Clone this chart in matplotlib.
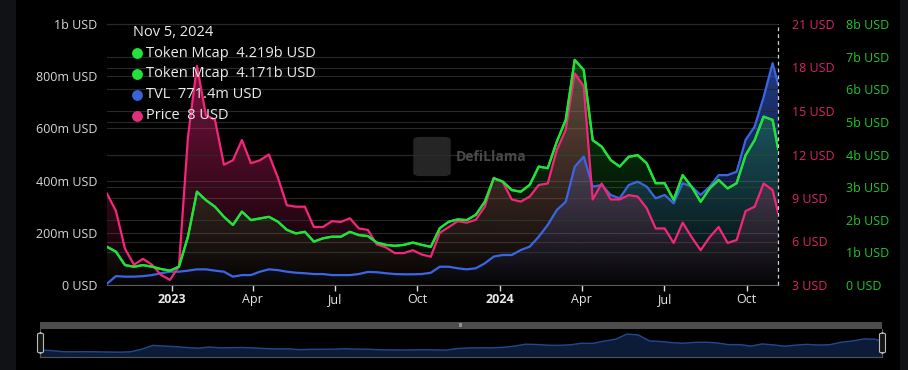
import numpy as np
import pandas as pd
import matplotlib
matplotlib.use('Agg')
import matplotlib.pyplot as plt
import matplotlib.dates as mdates
from matplotlib.colors import to_rgb
from matplotlib.lines import Line2D
from matplotlib.patches import Rectangle, FancyBboxPatch

plt.rcParams['font.family'] = ['Open Sans', 'DejaVu Sans']

# ---- data (every 10 days + last day) ----
dates = list(pd.date_range('2022-10-21', periods=75, freq='10D')) + [pd.Timestamp('2024-11-05')]

tvl = [5, 34, 32, 32, 34, 38, 45, 51, 51, 55,
       60, 60, 55, 51, 32, 38, 38, 51, 60, 57,
       51, 47, 45, 42, 42, 38, 38, 38, 42, 50,
       49, 45, 42, 41, 41, 42, 47, 70, 70, 64,
       60, 64, 83, 109, 115, 115, 134, 147, 185, 230,
       287, 319, 453, 492, 377, 383, 345, 332, 383, 396,
       377, 332, 345, 313, 390, 377, 345, 377, 421, 421,
       434, 556, 607, 720, 850, 771.4]  # m USD

price = [9.3, 8.1, 5.5, 4.4, 4.8, 4.4, 3.7, 3.35, 4.3, 13.2,
         18.1, 14.7, 14.4, 11.3, 11.6, 13.0, 11.4, 11.6, 12.0, 10.4,
         8.5, 8.4, 8.4, 7.0, 7.0, 7.4, 7.35, 7.6, 6.9, 6.8,
         5.8, 5.6, 5.2, 5.2, 5.4, 5.1, 4.95, 6.6, 7.0, 7.4,
         7.3, 7.5, 8.4, 10.4, 10.1, 8.9, 8.75, 9.1, 9.9, 10.0,
         12.3, 13.7, 17.6, 16.7, 8.9, 10.0, 8.9, 8.9, 9.2, 9.1,
         8.3, 6.9, 6.9, 5.9, 7.3, 6.3, 5.4, 6.3, 7.0, 5.9,
         6.1, 8.1, 8.4, 10.0, 9.55, 8.0]  # USD

mcap_a = [1.17, 1.02, 0.61, 0.56, 0.61, 0.56, 0.49, 0.44, 0.56, 1.48,
          2.86, 2.6, 2.4, 2.09, 1.84, 2.25, 1.99, 2.04, 2.09, 1.94,
          1.69, 1.58, 1.63, 1.33, 1.43, 1.48, 1.48, 1.63, 1.53, 1.50,
          1.30, 1.23, 1.20, 1.23, 1.30, 1.23, 1.17, 1.74, 1.94, 2.01,
          1.99, 2.15, 2.55, 3.27, 3.17, 2.91, 2.86, 3.07, 3.63, 3.58,
          4.39, 5.06, 6.9, 6.59, 4.44, 4.24, 3.83, 3.63, 3.93, 3.98,
          3.73, 3.12, 3.12, 2.61, 3.37, 3.01, 2.55, 2.96, 3.22, 2.96,
          3.12, 3.98, 4.44, 5.16, 5.06, 4.219]  # b USD
mcap_b = mcap_a[:-1] + [4.171]

left_ticks = [0, 200, 400, 600, 800, 1000]
left_labels = ['0 USD', '200m USD', '400m USD', '600m USD', '800m USD', '1b USD']
price_ticks = [3, 6, 9, 12, 15, 18, 21]
mcap_ticks = [0, 1, 2, 3, 4, 5, 6, 7, 8]
x_tick_dates = ['2023-01-01', '2023-04-01', '2023-07-01', '2023-10-01',
                '2024-01-01', '2024-04-01', '2024-07-01', '2024-10-01']
x_tick_labels = ['2023', 'Apr', 'Jul', 'Oct', '2024', 'Apr', 'Jul', 'Oct']

GREEN = '#22e23a'
BLUE = '#3a66e6'
PINK = '#f5267a'

W, H = 908, 370
fig = plt.figure(figsize=(W / 100, H / 100), dpi=100, facecolor='#111215')
fig.add_artist(Rectangle((16 / W, 0), 884 / W, 1, transform=fig.transFigure,
                         facecolor='black', edgecolor='none', zorder=-5))

x = mdates.date2num(dates)
x0 = mdates.date2num(pd.Timestamp('2022-10-21'))
x1 = x[-1]


def gradient_fill(ax, yvals, color, top_alpha, ybot):
    poly = ax.fill_between(x, yvals, ybot, facecolor='none', edgecolor='none')
    grad = np.zeros((256, 1, 4))
    grad[:, :, :3] = to_rgb(color)
    grad[:, 0, 3] = np.linspace(top_alpha, 0.02, 256)
    im = ax.imshow(grad, aspect='auto', origin='upper',
                   extent=[x[0], x[-1], ybot, max(yvals)], zorder=1)
    im.set_clip_path(poly.get_paths()[0], transform=ax.transData)


ax = fig.add_axes([107 / W, 85 / H, 671 / W, 261 / H])
ax.set_facecolor('none')
ax_p = ax.twinx()
ax_m = ax.twinx()

gradient_fill(ax, tvl, BLUE, 0.58, 0)
gradient_fill(ax_p, price, PINK, 0.5, 3)
gradient_fill(ax_m, mcap_a, GREEN, 0.28, 0)

for a, lo, hi, ticks in [(ax, 0, 1000, left_ticks), (ax_p, 3, 21, price_ticks), (ax_m, 0, 8, mcap_ticks)]:
    a.set_xlim(x0, x1)
    a.set_ylim(lo, hi)
    a.set_yticks(ticks)
    a.grid(axis='y', color='#282828', linewidth=0.8)
    a.set_axisbelow(True)
    for s in a.spines.values():
        s.set_visible(False)

# lines on top axes using each series' own scale
ax_m.plot(x, tvl, color=BLUE, lw=1.6, transform=ax.transData, zorder=3)
ax_m.plot(x, price, color=PINK, lw=1.6, transform=ax_p.transData, zorder=4)
ax_m.plot(x, mcap_b, color=GREEN, lw=1.6, zorder=5)
ax_m.plot(x, mcap_a, color=GREEN, lw=1.6, zorder=5)

ax.set_yticklabels(left_labels)
ax.tick_params(axis='y', length=0, pad=7, labelsize=9, labelcolor='#d8d8d8')
ax_p.set_yticklabels([f'{t} USD' for t in price_ticks])
ax_p.tick_params(axis='y', length=0, pad=10, labelsize=9, labelcolor='#d8266b')
ax_m.set_yticklabels(['0 USD'] + [f'{t}b USD' for t in mcap_ticks[1:]])
ax_m.tick_params(axis='y', length=0, pad=49, labelsize=9, labelcolor='#1ec82e')

ax.spines['top'].set_visible(True)
ax.spines['top'].set_color('#4a4a4a')
ax.spines['bottom'].set_visible(True)
ax.spines['bottom'].set_color('#5a5a5a')
ax.set_xticks(mdates.date2num(pd.to_datetime(x_tick_dates)))
ax.set_xticklabels(x_tick_labels)
ax.tick_params(axis='x', length=4, width=1, color='#e0e0e0', pad=2, labelsize=9, labelcolor='#e8e8e8')
for i, lab in enumerate(ax.get_xticklabels()):
    if x_tick_labels[i].isdigit():
        lab.set_fontweight('bold')
ax_p.tick_params(axis='x', length=0)
ax_m.tick_params(axis='x', length=0)

# cursor line
ax_m.axvline(x1, color='#d0d0d0', lw=0.9, ls=(0, (3, 2.5)), clip_on=False, zorder=6)

# tooltip
def fx(px):
    return px / W


def fy(py):
    return 1 - py / H


fig.text(fx(132.7), fy(32.3), 'Nov 5, 2024', color='#ececec', fontsize=10.5, va='center')
rows = [(GREEN, 'Token Mcap  4.219b USD', 53.3),
        (GREEN, 'Token Mcap  4.171b USD', 73.8),
        ('#3a63d8', 'TVL  771.4m USD', 94.5),
        ('#e0307a', 'Price  8 USD', 115.7)]
for col, txt, yy in rows:
    fig.add_artist(Line2D([fx(137.3)], [fy(yy)], marker='o', markersize=6.8, color=col,
                          transform=fig.transFigure, zorder=10))
    fig.text(fx(146.5), fy(yy), txt, color='#ececec', fontsize=10.5, va='center', zorder=10)

# watermark
fig.add_artist(FancyBboxPatch((fx(416), fy(175)), 32 / W, 37 / H, boxstyle='round,pad=0.003,rounding_size=0.008',
                              transform=fig.transFigure, facecolor='#2c2c2c', edgecolor='none', alpha=0.85, zorder=2))
fig.text(fx(456), fy(157), 'DefiLlama', color='#4a4a4a', fontsize=10, fontweight='bold', va='center', zorder=2)

# brush / zoom slider
bx = fig.add_axes([40 / W, 13 / H, 842 / W, 28 / H])
bx.set_facecolor('black')
bx.fill_between(x, mcap_a, -1.3, color='#0c1c38')
bx.plot(x, mcap_a, color='#22498e', lw=1.0)
bx.set_xlim(x0, x1)
bx.set_ylim(-1.3, 8.7)
bx.set_xticks([])
bx.set_yticks([])
for s in bx.spines.values():
    s.set_color('#555555')
bx.spines['top'].set_visible(False)
fig.add_artist(Rectangle((fx(40), fy(329)), 842 / W, 7 / H, transform=fig.transFigure,
                         facecolor='#4c4c4c', edgecolor='none', zorder=5))
fig.text(fx(461), fy(325.5), 'III', color='#dddddd', fontsize=4, ha='center', va='center', zorder=6)
for hx in (37.5, 879.5):
    fig.add_artist(FancyBboxPatch((fx(hx), fy(353)), 6 / W, 20 / H,
                                  boxstyle='round,pad=0,rounding_size=0.004',
                                  transform=fig.transFigure, facecolor='#151515',
                                  edgecolor='#bbbbbb', lw=0.8, zorder=7))

fig.savefig('out.png', dpi=100, facecolor=fig.get_facecolor())
